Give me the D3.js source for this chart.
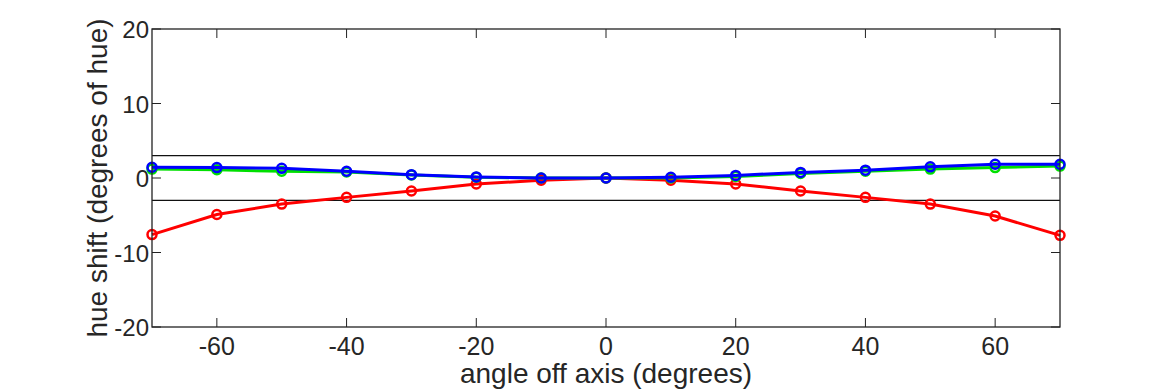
<!DOCTYPE html>
<html>
<head>
<meta charset="utf-8">
<script src="https://cdn.jsdelivr.net/npm/d3@7"></script>
<style>
  body { margin: 0; background: #fff; }
  text { font-family: "Liberation Sans", Arial, sans-serif; fill: #262626; }
</style>
</head>
<body>
<div id="chart"></div>
<script>
  // data
  let angles = [-70, -60, -50, -40, -30, -20, -10, 0, 10, 20, 30, 40, 50, 60, 70];
  let redShift   = [-7.6, -4.9, -3.5, -2.6, -1.75, -0.8, -0.3, 0, -0.3, -0.8, -1.75, -2.6, -3.5, -5.1, -7.7];
  let greenShift = [1.2, 1.1, 0.9, 0.8, 0.4, 0.1, 0, 0, 0.0, 0.2, 0.6, 0.9, 1.2, 1.4, 1.6];
  let blueShift  = [1.45, 1.4, 1.3, 0.9, 0.45, 0.15, 0, 0, 0.1, 0.35, 0.75, 1.05, 1.5, 1.85, 1.85];
  let xTicks = [-60, -40, -20, 0, 20, 40, 60];
  let yTicks = [-20, -10, 0, 10, 20];
  let limits = [-3, 3];

  let W = 1170, H = 390;
  let m = { left: 152, right: 1060, top: 29, bottom: 327 };

  let svg = d3.select('#chart').append('svg').attr('width', W).attr('height', H);

  let x = d3.scaleLinear().domain([-70, 70]).range([m.left, m.right]);
  let y = d3.scaleLinear().domain([-20, 20]).range([m.bottom, m.top]);

  // tick marks inward on all sides
  let tl = 9;
  let g = svg.append('g').attr('stroke', '#222').attr('stroke-width', 1);
  xTicks.forEach(v => {
    g.append('line').attr('x1', x(v)).attr('x2', x(v)).attr('y1', m.bottom).attr('y2', m.bottom - tl);
    g.append('line').attr('x1', x(v)).attr('x2', x(v)).attr('y1', m.top).attr('y2', m.top + tl);
  });
  yTicks.forEach(v => {
    g.append('line').attr('x1', m.left).attr('x2', m.left + tl).attr('y1', y(v)).attr('y2', y(v));
    g.append('line').attr('x1', m.right).attr('x2', m.right - tl).attr('y1', y(v)).attr('y2', y(v));
  });

  // tick labels
  svg.selectAll('.xl').data(xTicks).enter().append('text')
    .attr('x', d => x(d)).attr('y', 355).attr('text-anchor', 'middle')
    .style('font-size', '25px').text(d => d);
  svg.selectAll('.yl').data(yTicks).enter().append('text')
    .attr('x', 149).attr('y', d => y(d) + 9).attr('text-anchor', 'end')
    .style('font-size', '24px').text(d => d);

  // axis titles
  svg.append('text').attr('x', x(0)).attr('y', 383).attr('text-anchor', 'middle')
    .style('font-size', '28px').text('angle off axis (degrees)');
  svg.append('text').attr('transform', `translate(107,${y(0)}) rotate(-90)`)
    .attr('text-anchor', 'middle').style('font-size', '28px').text('hue shift (degrees of hue)');

  // limit lines
  svg.selectAll('.lim').data(limits).enter().append('line')
    .attr('x1', m.left).attr('x2', m.right)
    .attr('y1', d => y(d)).attr('y2', d => y(d))
    .attr('stroke', '#111').attr('stroke-width', 1.3);

  // series
  let series = [
    { color: '#ff0000', values: redShift },
    { color: '#00e000', values: greenShift },
    { color: '#0000ff', values: blueShift }
  ];
  let line = d3.line().x(d => x(d[0])).y(d => y(d[1]));

  series.forEach(s => {
    let pts = angles.map((a, i) => [a, s.values[i]]);
    svg.append('path').attr('d', line(pts)).attr('fill', 'none')
      .attr('stroke', s.color).attr('stroke-width', 3);
    svg.append('g').selectAll('circle').data(pts).enter().append('circle')
      .attr('cx', d => x(d[0])).attr('cy', d => y(d[1])).attr('r', 4.5)
      .attr('fill', 'none').attr('stroke', s.color).attr('stroke-width', 2.5);
  });

  // box
  svg.append('rect').attr('x', m.left).attr('y', m.top)
    .attr('width', m.right - m.left).attr('height', m.bottom - m.top)
    .attr('fill', 'none').attr('stroke', '#222').attr('stroke-width', 1.3);
</script>
</body>
</html>
